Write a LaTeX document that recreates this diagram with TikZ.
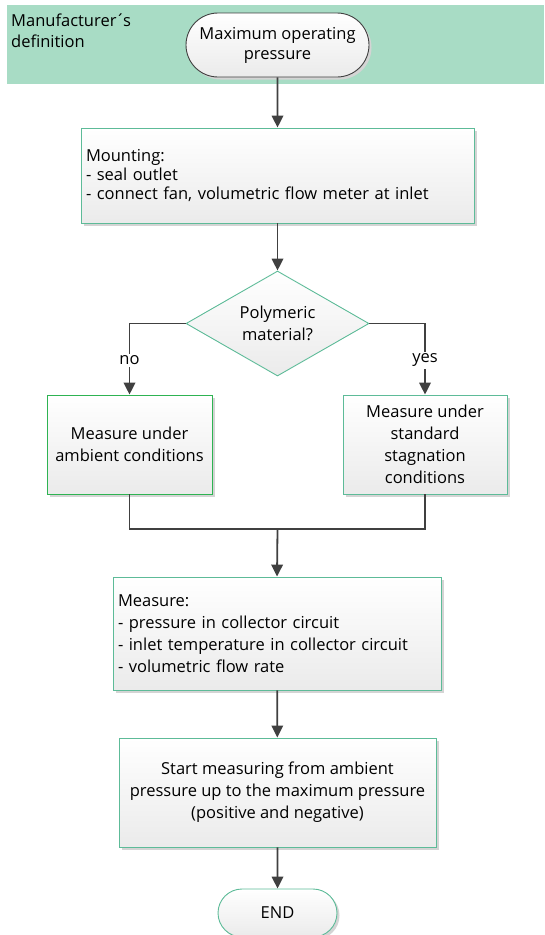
\documentclass[tikz,border=0pt]{standalone}
\usepackage{fontspec}
\setmainfont{Open Sans}
\usetikzlibrary{arrows.meta,shapes.geometric,shapes.misc,shadows}
\definecolor{bandc}{HTML}{A8DCC5}
\definecolor{tealb}{HTML}{5DBB98}
\definecolor{greenb}{HTML}{2EB352}
\definecolor{linec}{HTML}{404040}
\definecolor{shadc}{HTML}{D4D4D4}
\begin{document}
\begin{tikzpicture}[x=1pt,y=-1pt,
  every node/.style={font=\fontsize{16.5}{22}\selectfont, text=black},
  boxb/.style={rectangle, draw=tealb, line width=0.9pt, top color=white, bottom color=black!8,
     inner sep=0pt, drop shadow={shadow xshift=2.5pt, shadow yshift=-2.5pt, fill=shadc, opacity=1}},
  termb/.style={rounded rectangle, draw=linec, line width=0.9pt, top color=white, bottom color=black!8,
     inner sep=0pt, drop shadow={shadow xshift=2.5pt, shadow yshift=-2.5pt, fill=shadc, opacity=1}},
  decb/.style={diamond, draw=tealb, line width=0.9pt, top color=white, bottom color=black!8,
     inner sep=0pt, aspect=1.74},
  conn/.style={draw=linec, line width=1.8pt},
  arr/.style={conn, -{Triangle[width=11.5pt,length=12pt]}},
  lbl/.style={fill=white, inner sep=2pt}
]
\useasboundingbox (0,0) rectangle (544,935);
\node[fill=bandc, minimum width=537pt, minimum height=79pt, inner sep=0pt, anchor=north west] (band) at (7,5) {};
\node[anchor=west, align=left, inner sep=0pt, font=\fontsize{16.5}{21}\selectfont] (mdef) at (11,31) {Manufacturer\kern-1pt´\kern-2pt s\\definition};

\node[termb, minimum width=183pt, minimum height=64pt, align=center, font=\fontsize{16.5}{20}\selectfont] (start) at (277.5,45) {Maximum operating\\pressure};

\node[boxb, minimum width=393pt, minimum height=95pt, text width=383pt, align=left, font=\fontsize{16.5}{19}\selectfont] (mount) at (277.5,175.5)
  {Mounting:\\- seal outlet\\- connect fan, volumetric flow meter at inlet};

\node[decb, minimum width=183pt, minimum height=105pt, align=center, font=\fontsize{16.5}{21.5}\selectfont] (poly) at (277.5,323.5) {Polymeric\\material?};

\node[boxb, draw=greenb, minimum width=165pt, minimum height=99pt, align=center] (amb) at (129.5,444.5)
  {Measure under\\ambient conditions};
\node[boxb, minimum width=164pt, minimum height=99pt, align=center] (stag) at (425,444.5)
  {Measure under\\standard\\stagnation\\conditions};

\coordinate (merge) at (277.5,529);

\node[boxb, minimum width=328pt, minimum height=113pt, text width=318pt, align=left] (meas) at (277,633.5)
  {Measure:\\- pressure in collector circuit\\- inlet temperature in collector circuit\\- volumetric flow rate};

\node[boxb, minimum width=317pt, minimum height=109pt, align=center] (range) at (277.5,792.5)
  {Start measuring from ambient\\pressure up to the maximum pressure\\(positive and negative)};

\node[termb, draw=tealb, minimum width=119pt, minimum height=48pt] (endn) at (277.5,913) {END};

\draw[arr] (start) -- (mount);
\draw[arr] (mount) -- (poly);
\draw[arr] (poly.west) -| node[lbl, pos=0.76] {no} (amb.north);
\draw[arr] (poly.east) -| node[lbl, pos=0.76] {yes} (stag.north);
\draw[conn] (amb.south) |- (merge) -| (stag.south);
\draw[arr] (merge) -- (meas.north);
\draw[arr] (meas) -- (range);
\draw[arr] (range) -- (endn);
\end{tikzpicture}
\end{document}
